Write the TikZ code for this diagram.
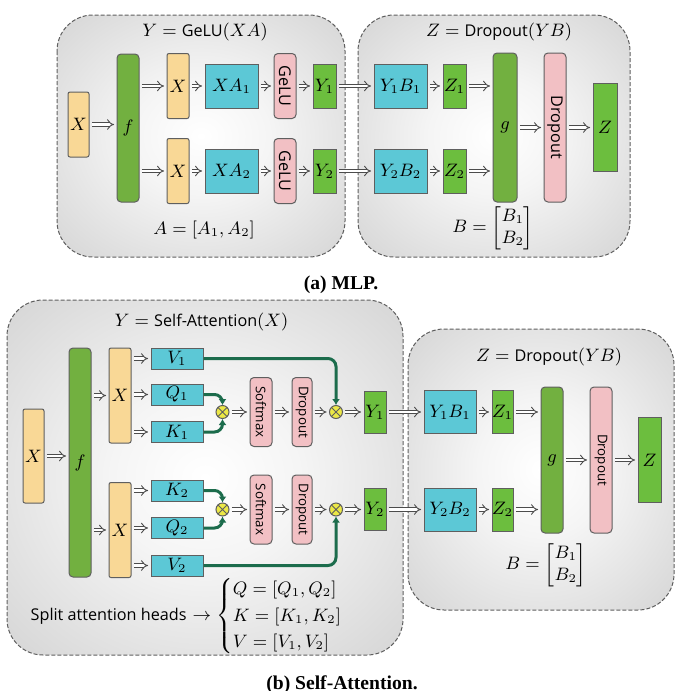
\documentclass[tikz,border=0pt]{standalone}
\usepackage{amsmath}
\usepackage{graphicx}
\usepackage{fontspec}
\setsansfont[Scale=0.9]{Open Sans}
\newfontfamily\capfont{Liberation Serif}
\usetikzlibrary{arrows.meta}
\definecolor{boxorange}{RGB}{249,216,150}
\definecolor{boxgreen}{RGB}{114,176,64}
\definecolor{lightgreen}{RGB}{108,190,62}
\definecolor{boxcyan}{RGB}{92,200,214}
\definecolor{boxpink}{RGB}{242,192,196}
\definecolor{multyellow}{RGB}{236,232,70}
\definecolor{pathgreen}{RGB}{28,108,76}
\definecolor{edgegray}{RGB}{95,95,95}
\pgfdeclareradialshading{panelshade}{\pgfpoint{0bp}{0bp}}{color(0bp)=(white); color(12bp)=(white!96!black); color(50bp)=(white!76!black); color(71bp)=(white!66!black)}

\begin{document}
\begin{tikzpicture}[
  x=0.5pt, y=-0.5pt,
  every node/.style={font=\fontsize{9}{11}\selectfont},
  panel/.style={shade, shading=panelshade, draw=edgegray, line width=0.5pt,
    dash pattern=on 2pt off 1pt, rounded corners=18pt},
  sz/.style 2 args={minimum width=#1, minimum height=#2},
  box/.style={draw=edgegray, line width=0.5pt, inner sep=0pt, align=center},
  ynode/.style={box, fill=boxorange, rounded corners=1pt},
  fnode/.style={box, fill=boxgreen, rounded corners=2pt},
  lgnode/.style={box, fill=lightgreen},
  cnode/.style={box, fill=boxcyan},
  pnode/.style={box, fill=boxpink, rounded corners=2pt, font=\fontsize{9}{11}\sffamily},
  spnode/.style={pnode, font=\fontsize{7.4}{9}\sffamily},
  mnode/.style={circle, draw=edgegray, fill=multyellow, line width=0.5pt,
    minimum size=6.5pt, inner sep=0pt,
    path picture={\draw[edgegray, line width=0.45pt]
      (path picture bounding box.north west) -- (path picture bounding box.south east)
      (path picture bounding box.south west) -- (path picture bounding box.north east);}},
  arr/.style={draw=gray!60!black, double=white, line width=0.45pt, double distance=1.4pt,
    -{Implies}, shorten <=1.2pt, shorten >=1.2pt},
  garr/.style={draw=pathgreen, line width=1.5pt, rounded corners=4pt,
    -{Latex[length=3pt,width=4pt]}},
  captext/.style={font=\fontsize{9.8}{12}\capfont\bfseries}
]
\useasboundingbox (0,0) rectangle (679,691);

%% panels
\path[panel] (57,15) rectangle (345,257);
\path[panel] (358,15) rectangle (630,257);
\path[panel] (7,300) rectangle (403,655);
\path[panel] (408,329) rectangle (674,610);

%% (a) MLP, left half
\node (aT1) at (205,32) {$Y = \textsf{GeLU}(XA)$};
\node[ynode, sz={10.5pt}{32.5pt}] (aX) at (78.5,124.5) {$X$};
\node[fnode, sz={11pt}{74pt}] (aF) at (128,128) {$f$};
\node[ynode, sz={11pt}{32.5pt}] (aX1) at (178,86) {$X$};
\node[ynode, sz={11pt}{32.5pt}] (aX2) at (178,171) {$X$};
\node[cnode, sz={26.5pt}{22pt}] (aXA1) at (231.5,86) {$XA_1$};
\node[cnode, sz={26.5pt}{22pt}] (aXA2) at (231.5,171) {$XA_2$};
\node[pnode, sz={11pt}{32.5pt}] (aG1) at (285,86) {\rotatebox{-90}{GeLU}};
\node[pnode, sz={11pt}{32.5pt}] (aG2) at (285,171) {\rotatebox{-90}{GeLU}};
\node[lgnode, sz={11.5pt}{22pt}] (aY1) at (324.5,86) {$Y_1$};
\node[lgnode, sz={11.5pt}{22pt}] (aY2) at (324.5,171) {$Y_2$};
\node (aA) at (204,230) {$A = [A_1, A_2]$};

%% (a) MLP, right half
\node (aT2) at (499,32) {$Z = \textsf{Dropout}(YB)$};
\node[cnode, sz={26.5pt}{22pt}] (aYB1) at (400.5,86) {$Y_1B_1$};
\node[cnode, sz={26.5pt}{22pt}] (aYB2) at (400.5,171) {$Y_2B_2$};
\node[lgnode, sz={11.5pt}{22pt}] (aZ1) at (454.5,86) {$Z_1$};
\node[lgnode, sz={11.5pt}{22pt}] (aZ2) at (454.5,171) {$Z_2$};
\node[fnode, sz={12pt}{74.5pt}] (aGg) at (505,127.5) {$g$};
\node[pnode, sz={11pt}{74.5pt}] (aDrop) at (555,127.5) {\rotatebox{-90}{Dropout}};
\node[lgnode, sz={12pt}{44pt}] (aZ) at (605,127.5) {$Z$};
\node (aB) at (493,228) {$B = \begin{bmatrix} B_1\\ B_2 \end{bmatrix}$};

\draw[arr] (aX) -- (aX -| aF.west);
\draw[arr] (aF.east |- aX1) -- (aX1);
\draw[arr] (aF.east |- aX2) -- (aX2);
\foreach \i in {1,2} {
  \draw[arr] (aX\i) -- (aXA\i);
  \draw[arr] (aXA\i) -- (aG\i);
  \draw[arr] (aG\i) -- (aY\i);
  \draw[arr] (aY\i) -- (aYB\i);
  \draw[arr] (aYB\i) -- (aZ\i);
  \draw[arr] (aZ\i) -- (aZ\i -| aGg.west);
}
\draw[arr] (aGg) -- (aDrop);
\draw[arr] (aDrop) -- (aZ);

\node[captext] (aCap) at (341,285) {(a) MLP.};

%% (b) Self-Attention, left half
\node (bT1) at (201.5,322) {$Y = \textsf{Self-Attention}(X)$};
\node[ynode, sz={10.5pt}{47pt}] (bX) at (33.5,456) {$X$};
\node[fnode, sz={11pt}{114.5pt}] (bF) at (80,462.5) {$f$};
\node[ynode, sz={11pt}{47.5pt}] (bX1) at (120,395.5) {$X$};
\node[ynode, sz={11pt}{47.5pt}] (bX2) at (120,530) {$X$};
\node[cnode, sz={26pt}{10.5pt}] (bV1) at (177,358.5) {$V_1$};
\node[cnode, sz={26pt}{10.5pt}] (bQ1) at (177,394.5) {$Q_1$};
\node[cnode, sz={26pt}{10.5pt}] (bK1) at (177,432) {$K_1$};
\node[cnode, sz={26pt}{10.5pt}] (bK2) at (177,490.5) {$K_2$};
\node[cnode, sz={26pt}{10.5pt}] (bQ2) at (177,528) {$Q_2$};
\node[cnode, sz={26pt}{10.5pt}] (bV2) at (177,565.5) {$V_2$};
\node[mnode] (bM1) at (222.5,412) {};
\node[mnode] (bM2) at (222.5,509.5) {};
\node[spnode, sz={11pt}{34.5pt}] (bSM1) at (261,412) {\rotatebox{-90}{Softmax}};
\node[spnode, sz={11pt}{34.5pt}] (bSM2) at (261,509.5) {\rotatebox{-90}{Softmax}};
\node[spnode, sz={10pt}{34.5pt}] (bDP1) at (302,412) {\rotatebox{-90}{Dropout}};
\node[spnode, sz={10pt}{34.5pt}] (bDP2) at (302,509.5) {\rotatebox{-90}{Dropout}};
\node[mnode] (bO1) at (336,412) {};
\node[mnode] (bO2) at (336,509.5) {};
\node[lgnode, sz={11pt}{21pt}] (bY1) at (375,412) {$Y_1$};
\node[lgnode, sz={11pt}{21pt}] (bY2) at (375,509.5) {$Y_2$};
\node (bSplit) at (196,616) {\def\arraystretch{0.95}\textsf{Split attention heads} $\rightarrow
  \begin{cases} Q = [Q_1, Q_2]\\ K = [K_1, K_2]\\ V = [V_1, V_2] \end{cases}$};

%% (b) Self-Attention, right half
\node (bT2) at (549,357) {$Z = \textsf{Dropout}(YB)$};
\node[cnode, sz={26pt}{21.5pt}] (bYB1) at (450,412) {$Y_1B_1$};
\node[cnode, sz={26pt}{21.5pt}] (bYB2) at (450,509.5) {$Y_2B_2$};
\node[lgnode, sz={10.5pt}{21.5pt}] (bZ1) at (502.5,412) {$Z_1$};
\node[lgnode, sz={10.5pt}{21.5pt}] (bZ2) at (502.5,509.5) {$Z_2$};
\node[fnode, sz={11pt}{73pt}] (bGg) at (552,460) {$g$};
\node[spnode, sz={11pt}{73pt}] (bDrop) at (601,460) {\rotatebox{-90}{Dropout}};
\node[lgnode, sz={11.5pt}{42.5pt}] (bZ) at (649.5,460) {$Z$};
\node (bB) at (546,565) {$B = \begin{bmatrix} B_1\\ B_2 \end{bmatrix}$};

\draw[arr] (bX) -- (bX -| bF.west);
\draw[arr] (bF.east |- bX1) -- (bX1);
\draw[arr] (bF.east |- bX2) -- (bX2);
\foreach \n in {V1,Q1,K1} \draw[arr] (bX1.east |- b\n) -- (b\n);
\foreach \n in {K2,Q2,V2} \draw[arr] (bX2.east |- b\n) -- (b\n);
\foreach \i in {1,2} {
  \draw[arr] (bM\i) -- (bSM\i);
  \draw[arr] (bSM\i) -- (bDP\i);
  \draw[arr] (bDP\i) -- (bO\i);
  \draw[arr] (bO\i) -- (bY\i);
  \draw[arr] (bY\i) -- (bYB\i);
  \draw[arr] (bYB\i) -- (bZ\i);
  \draw[arr] (bZ\i) -- (bZ\i -| bGg.west);
}
\draw[arr] (bGg) -- (bDrop);
\draw[arr] (bDrop) -- (bZ);

%% attention paths
\draw[garr] (bQ1) -| (bM1);
\draw[garr] (bK1) -| (bM1);
\draw[garr] (bK2) -| (bM2);
\draw[garr] (bQ2) -| (bM2);
\draw[garr] (bV1) -| (bO1);
\draw[garr] (bV2) -| (bO2);

\node[captext] (bCap) at (342,685) {(b) Self-Attention.};
\end{tikzpicture}
\end{document}
